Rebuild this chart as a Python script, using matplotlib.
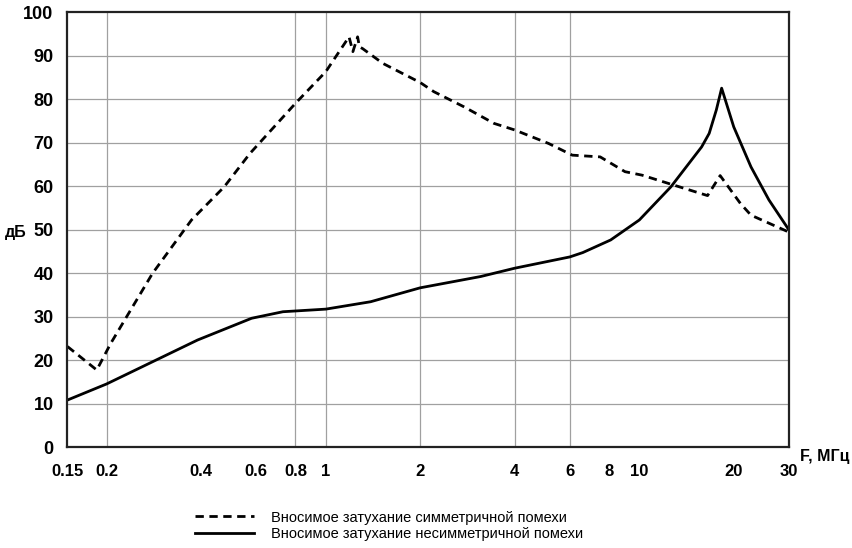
import matplotlib.pyplot as plt
from matplotlib.ticker import FixedLocator, NullLocator

plt.rcParams['font.family'] = ['Liberation Sans', 'DejaVu Sans']

# symmetric interference (dashed)
sym_f = [0.15, 0.186, 0.206, 0.28, 0.373, 0.474, 0.573, 0.8, 1.0, 1.186, 1.22, 1.263,
         1.28, 1.31, 1.52, 2.0, 2.21, 2.76, 3.44, 4.0, 5.13, 6.11, 7.5, 9.0, 10.2,
         12.9, 16.5, 18.1, 21.0, 22.7, 30.0]
sym_db = [23.1, 17.7, 23.8, 39.9, 52.2, 59.8, 67.5, 79.0, 86.3, 94.3, 90.9, 94.3,
          92.0, 91.6, 88.2, 83.8, 81.7, 78.2, 74.4, 72.9, 69.8, 67.1, 66.7, 63.3, 62.5,
          60.2, 57.8, 62.4, 56.0, 53.3, 49.4]

# asymmetric interference (solid)
asym_f = [0.15, 0.2, 0.39, 0.58, 0.73, 1.0, 1.39, 2.0, 3.12, 4.0, 6.0, 6.6, 8.1,
          10.0, 12.6, 15.8, 16.7, 17.6, 18.3, 20.0, 22.7, 25.9, 30.0]
asym_db = [10.8, 14.5, 24.6, 29.6, 31.1, 31.7, 33.4, 36.6, 39.2, 41.1, 43.7, 44.7, 47.6,
           52.2, 59.8, 69.0, 72.1, 77.5, 82.5, 73.6, 64.4, 56.8, 49.9]

x_ticks = [0.15, 0.2, 0.4, 0.6, 0.8, 1, 2, 4, 6, 8, 10, 20, 30]
x_labels = ['0.15', '0.2', '0.4', '0.6', '0.8', '1', '2', '4', '6', '8', '10', '20', '30']
x_grid = [0.2, 0.8, 1, 2, 4, 6]
y_ticks = list(range(0, 101, 10))

fig = plt.figure(figsize=(8.52, 5.48), dpi=100)
ax = fig.add_axes([0.0792, 0.1843, 0.8468, 0.7937])

ax.plot(sym_f, sym_db, color='black', lw=2.0, ls=(0, (3, 2)),
        label='Вносимое затухание симметричной помехи')
ax.plot(asym_f, asym_db, color='black', lw=2.0,
        label='Вносимое затухание несимметричной помехи')

ax.set_xscale('log')
ax.set_xlim(0.15, 30)
ax.set_ylim(0, 100)

ax.xaxis.set_major_locator(FixedLocator(x_ticks))
ax.xaxis.set_minor_locator(NullLocator())
ax.set_xticklabels(x_labels, fontsize=12, fontweight='bold')
ax.set_yticks(y_ticks)
ax.set_yticklabels([str(v) for v in y_ticks], fontsize=13, fontweight='bold')
ax.tick_params(axis='both', length=0)
ax.tick_params(axis='x', pad=12)
ax.tick_params(axis='y', pad=10)

for v in y_ticks[1:-1]:
    ax.axhline(v, color='#a0a0a0', lw=0.9, zorder=0)
for v in x_grid:
    ax.axvline(v, color='#a0a0a0', lw=0.9, zorder=0)

for s in ax.spines.values():
    s.set_linewidth(1.6)
    s.set_color('#222222')

fig.text(16 / 852, 1 - 233 / 548, 'дБ', fontsize=11.5, fontweight='bold',
         ha='center', va='center')
fig.text(825 / 852, 1 - 456 / 548, 'F, МГц', fontsize=11.5, fontweight='bold',
         ha='center', va='center')

fig.legend(loc='center left', bbox_to_anchor=(188 / 852, 1 - 526 / 548),
           frameon=False, fontsize=10.5, handlelength=4.0, handletextpad=1.2,
           labelspacing=0.2, borderpad=0)

fig.savefig('out.png', dpi=100)
